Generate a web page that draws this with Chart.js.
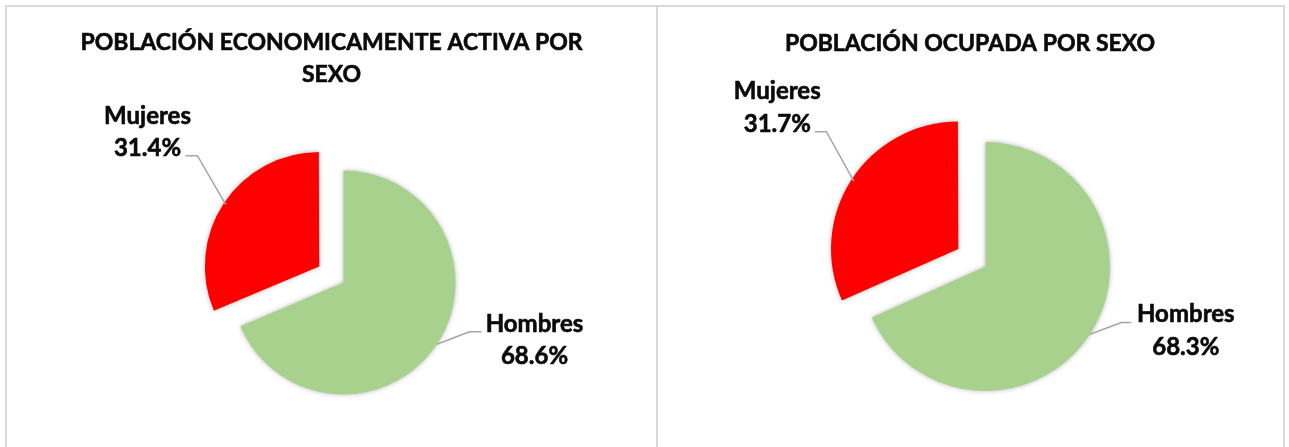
<!DOCTYPE html>
<html>
<head>
<meta charset="utf-8">
<script src="https://cdn.jsdelivr.net/npm/chart.js@4.4.1/dist/chart.umd.min.js"></script>
<style>
  html, body { margin: 0; padding: 0; background: #ffffff; width: 1289px; height: 447px; overflow: hidden; }
  .frame { position: absolute; box-sizing: border-box; }
  #f1 { left: 5px; top: 5px; width: 653px; height: 460px; border-left: 2px solid #d9d9d9; border-top: 2px solid #d9d9d9; border-right: 2px solid #d9d9d9; }
  #f2 { left: 656px; top: 5px; width: 629px; height: 460px; border-top: 2px solid #d9d9d9; border-right: 2px solid #d9d9d9; }
  canvas { position: absolute; top: 0; }
  #c1 { left: 0; }
  #c2 { left: 657px; }
</style>
</head>
<body>
<div class="frame" id="f1"></div>
<div class="frame" id="f2"></div>
<canvas id="c1" width="657" height="447"></canvas>
<canvas id="c2" width="632" height="447"></canvas>
<script>
// ---- data ----
const categories = ['Hombres', 'Mujeres'];
const peaValues = [68.6, 31.4];        // Población económicamente activa (%)
const ocupadaValues = [68.3, 31.7];    // Población ocupada (%)
const titlePea = ['POBLACIÓN ECONOMICAMENTE ACTIVA POR', 'SEXO'];
const titleOcupada = ['POBLACIÓN OCUPADA POR SEXO'];
const sliceColors = ['#A9D18E', '#FF0000'];

const FONT = 'Lato, "Open Sans", sans-serif';

function boldText(ctx, t, x, y) {
  ctx.fillText(t, x, y);
  ctx.strokeText(t, x, y);
}

// plugin: soft shadow under slices, titles, data labels with leader lines
const decoPlugin = {
  id: 'deco',
  beforeDatasetsDraw(chart) {
    const ctx = chart.ctx;
    ctx.save();
    ctx.shadowColor = 'rgba(0,0,0,0.28)';
    ctx.shadowBlur = 5;
    ctx.shadowOffsetX = 0;
    ctx.shadowOffsetY = 0;
  },
  afterDatasetsDraw(chart, args, opts) {
    const ctx = chart.ctx;
    ctx.restore();
    ctx.save();
    ctx.fillStyle = '#0a0a0a';
    ctx.strokeStyle = '#0a0a0a';
    ctx.lineWidth = 0.6;
    ctx.lineJoin = 'round';
    ctx.textAlign = 'center';
    ctx.textBaseline = 'alphabetic';
    // title
    ctx.font = 'bold ' + opts.fontSize + 'px ' + FONT;
    opts.title.forEach((line, i) => {
      boldText(ctx, line, opts.titleX, opts.titleY + i * opts.titleGap);
    });
    // labels
    const meta = chart.getDatasetMeta(0);
    const ds = chart.data.datasets[0];
    const cx = meta.data[0].x, cy = meta.data[0].y;
    meta.data.forEach((el, i) => {
      const L = opts.labels[i];
      const mid = (el.startAngle + el.endAngle) / 2;
      const shift = (el.options.offset || 0) / 4;
      const rr = el.outerRadius + shift;
      const px = el.x + Math.cos(mid) * rr;
      const py = el.y + Math.sin(mid) * rr;
      ctx.save();
      ctx.strokeStyle = '#a6a6a6';
      ctx.lineWidth = 1.5;
      ctx.beginPath();
      ctx.moveTo(px, py);
      ctx.lineTo(cx + L.elbow[0], cy + L.elbow[1]);
      ctx.lineTo(cx + L.start[0], cy + L.start[1]);
      ctx.stroke();
      ctx.restore();
      ctx.font = 'bold ' + opts.labelSize + 'px ' + FONT;
      const lines = [chart.data.labels[i], ds.data[i].toFixed(1) + '%'];
      lines.forEach((t, k) => {
        boldText(ctx, t, cx + L.dx, cy + L.dy + k * opts.lineGap);
      });
    });
    ctx.restore();
  }
};

function makePie(id, values, title, radius, pad, deco) {
  return new Chart(document.getElementById(id), {
    type: 'pie',
    data: {
      labels: categories,
      datasets: [{
        data: values,
        backgroundColor: sliceColors,
        borderWidth: 0,
        radius: radius,
        offset: [0, radius * 0.26 * 4],
        hoverOffset: 0
      }]
    },
    options: {
      responsive: false,
      animation: false,
      events: [],
      rotation: 0,
      layout: { padding: pad },
      plugins: {
        legend: { display: false },
        tooltip: { enabled: false },
        title: { display: false },
        deco: Object.assign({ title: title }, deco)
      }
    },
    plugins: [decoPlugin]
  });
}

function draw() {
  makePie('c1', peaValues, titlePea, 112,
    { left: 30, right: 0, top: 118, bottom: 0 },
    {
      fontSize: 23, labelSize: 24, titleX: 331.5, titleY: 50, titleGap: 31.7, lineGap: 32.5,
      labels: [
        { dx: 191, dy: 49, start: [138, 49.3], elbow: [126, 49.3] },
        { dx: -196, dy: -158.7, start: [-158, -126.7], elbow: [-146, -126.7] }
      ]
    });
  makePie('c2', ocupadaValues, titleOcupada, 124.5,
    { left: 25, right: 0, top: 86, bottom: 0 },
    {
      fontSize: 23, labelSize: 24, titleX: 313, titleY: 51, titleGap: 31.7, lineGap: 33,
      labels: [
        { dx: 200.3, dy: 55.6, start: [146, 56], elbow: [136, 56] },
        { dx: -208.2, dy: -167.4, start: [-170.7, -134.7], elbow: [-159, -134.7] }
      ]
    });
}

if (document.fonts && document.fonts.load) {
  document.fonts.load('bold 23px Lato').then(draw, draw);
} else {
  draw();
}
</script>
</body>
</html>
